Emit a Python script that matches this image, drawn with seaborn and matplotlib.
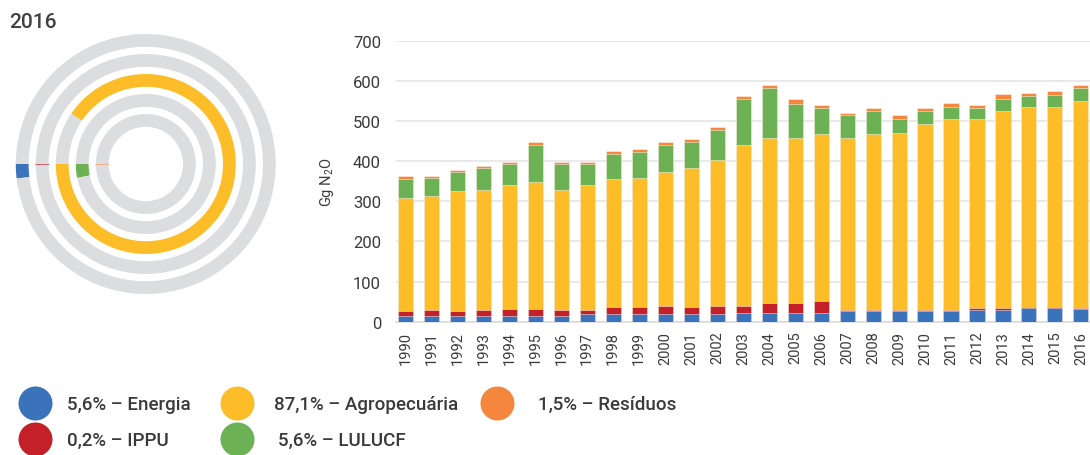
import matplotlib

matplotlib.use("Agg")
import matplotlib.pyplot as plt
import numpy as np
import pandas as pd
import seaborn as sns

# --- data ------------------------------------------------------------------
years = [str(y) for y in range(1990, 2017)]
sectors = ["Energia", "IPPU", "Agropecuária", "LULUCF", "Resíduos"]
colors = ["#3b73ba", "#c3202a", "#fdbd28", "#6cb153", "#f4873d"]

energia = [15, 15, 15, 15, 15, 15, 15, 18, 18, 18, 18, 18, 18, 22,
           22, 22, 22, 26, 26, 26, 26, 26, 30, 30, 33, 33, 31]
ippu = [11, 15, 11, 15, 17, 17, 15, 12, 18, 18, 22, 18, 22, 18,
        25, 25, 30, 3, 3, 3, 3, 3, 3, 3, 3, 3, 2]
agropecuaria = [282, 284, 299, 299, 308, 316, 299, 310, 319, 323, 334, 348, 363, 400,
                410, 410, 415, 428, 438, 441, 464, 477, 473, 493, 500, 500, 518]
lulucf = [47, 45, 49, 55, 52, 91, 63, 52, 63, 63, 65, 63, 74, 114,
          126, 86, 65, 57, 59, 36, 33, 30, 26, 28, 25, 29, 32]
residuos = [7, 4, 4, 4, 7, 8, 7, 7, 8, 7, 8, 8, 7, 8,
            7, 12, 8, 7, 6, 8, 6, 10, 8, 12, 9, 9, 7]

# 2016 shares (legend) and how far each ring is filled in the gauge (degrees)
shares_2016 = [5.6, 0.2, 87.1, 5.6, 1.5]
ring_sweep = [6.4, 0.5, 326.0, 11.5, 1.0]

yticks = [0, 100, 200, 300, 400, 500, 600, 700]

W, H = 1090, 456
TEXT = "#3a3a3a"
TRACK = "#dcdddf"

sns.set_theme(style="white")
plt.rcParams["font.family"] = ["Roboto", "DejaVu Sans"]
plt.rcParams["mathtext.default"] = "regular"

fig = plt.figure(figsize=(W / 100, H / 100), dpi=100)


def px_axes(left, top, right, bottom):
    return fig.add_axes([left / W, 1 - bottom / H, (right - left) / W, (bottom - top) / H])


# --- stacked bars ------------------------------------------------------------
frame = pd.DataFrame(
    {"year": years, "Energia": energia, "IPPU": ippu, "Agropecuária": agropecuaria,
     "LULUCF": lulucf, "Resíduos": residuos}
)
tops = frame[sectors].cumsum(axis=1)

ax = px_axes(395.7, 41.7, 1090, 322.7)
for sector, color in reversed(list(zip(sectors, colors))):
    sns.barplot(x=frame["year"], y=tops[sector], color=color, width=0.58,
                saturation=1, errorbar=None, edgecolor=(1, 1, 1, 0.55),
                linewidth=0.6, ax=ax, zorder=3)

ax.set_ylim(0, 700)
ax.set_xlim(-0.375, 26.35)
ax.set_yticks(yticks)
ax.yaxis.grid(True, color="#e3e3e3", linewidth=1.1, zorder=0)
ax.set_axisbelow(True)
for side in ["top", "right", "left"]:
    ax.spines[side].set_visible(False)
ax.spines["bottom"].set_color("#d9d9d9")
ax.spines["bottom"].set_linewidth(1.1)
ax.tick_params(axis="y", length=0, pad=10.5, labelsize=12, labelcolor=TEXT)
ax.tick_params(axis="x", length=0, pad=6.5, labelsize=10.5, labelcolor=TEXT,
               labelrotation=90)
ax.set_xlabel("")
ax.set_ylabel("Gg N$_2$O", fontsize=10.5, color=TEXT, labelpad=12)

# --- ring gauge for 2016 -----------------------------------------------------
dax = px_axes(10.8, 30, 280.8, 300)
radii = [130, 110, 90, 70, 50]
for sweep, color, r in zip(ring_sweep, colors, radii):
    wedges, _ = dax.pie([sweep, 360 - sweep], colors=[color, TRACK], startangle=180,
                        counterclock=True, radius=r,
                        wedgeprops=dict(width=12.8, linewidth=0))
    if sweep < 2:
        wedges[0].set_edgecolor(color)
        wedges[0].set_linewidth(0.5)
        wedges[0].set_alpha(0.6)
dax.set_xlim(-135, 135)
dax.set_ylim(-135, 135)
dax.set_aspect("equal")

fig.text(9 / W, 1 - 23 / H, "2016", fontsize=15, color="#404040",
         va="center", ha="left", fontweight="medium")

# --- legend -------------------------------------------------------------------
lax = fig.add_axes([0, 0, 1, 1])
lax.set_xlim(0, W)
lax.set_ylim(H, 0)
lax.axis("off")
marker_pos = [(35, 404), (35, 440), (237, 404), (237, 440), (497, 404)]
text_x = [67, 67, 274, 278, 538]
for sector, share, color, (mx, my), tx in zip(sectors, shares_2016, colors,
                                               marker_pos, text_x):
    lax.scatter([mx], [my], s=600, color=color, linewidth=0, clip_on=False)
    label = f"{share:.1f}".replace(".", ",") + "% – " + sector
    lax.text(tx, my + 1, label, fontsize=13.5, color=TEXT, va="center", ha="left",
             fontweight="medium")

fig.savefig("out.png", dpi=100)
